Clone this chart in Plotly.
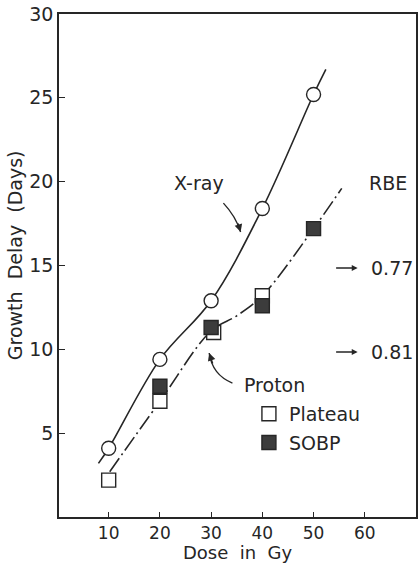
import plotly.graph_objects as go

# ---- data ----
xray_dose = [10, 20, 30, 40, 50]
xray_delay = [4.1, 9.4, 12.9, 18.4, 25.2]

plateau_dose = [10, 20, 30.5, 40]
plateau_delay = [2.2, 6.9, 11.0, 13.2]

sobp_dose = [20, 30, 40, 50]
sobp_delay = [7.8, 11.3, 12.6, 17.2]

# hand-drawn fitted curves
xray_curve_dose = [8.0, 10, 20, 30, 40, 50, 52.4]
xray_curve_delay = [3.2, 4.1, 9.4, 12.9, 18.4, 25.2, 26.7]
proton_curve_dose = [10.2, 20, 30, 35, 40, 50, 55.5]
proton_curve_delay = [2.7, 6.9, 11.1, 12.0, 13.2, 17.2, 19.6]

x_ticks = [10, 20, 30, 40, 50, 60]
y_ticks = [5, 10, 15, 20, 25, 30]
rbe_labels = ["0.77", "0.81"]
rbe_levels = [14.85, 9.84]

FONT = "DejaVu Sans"
INK = "#262626"

fig = go.Figure()

fig.add_trace(go.Scatter(
    x=xray_curve_dose, y=xray_curve_delay, mode="lines",
    line=dict(color=INK, width=1.6, shape="spline", smoothing=1.0),
    showlegend=False, hoverinfo="skip"))
fig.add_trace(go.Scatter(
    x=proton_curve_dose, y=proton_curve_delay, mode="lines",
    line=dict(color=INK, width=1.6, shape="spline", smoothing=1.0,
              dash="16px,4px,2px,4px"),
    showlegend=False, hoverinfo="skip"))

fig.add_trace(go.Scatter(
    x=xray_dose, y=xray_delay, mode="markers", name="X-ray",
    marker=dict(symbol="circle", size=14, color="white",
                line=dict(color=INK, width=1.4)),
    showlegend=False))
fig.add_trace(go.Scatter(
    x=plateau_dose, y=plateau_delay, mode="markers", name="Plateau",
    legendgroup="plateau",
    marker=dict(symbol="square", size=14, color="white",
                line=dict(color=INK, width=1.4))))
fig.add_trace(go.Scatter(
    x=sobp_dose, y=sobp_delay, mode="markers", name="SOBP",
    legendgroup="sobp",
    marker=dict(symbol="square", size=14, color="#3c3c3c",
                line=dict(color=INK, width=1.4))))

annotations = [
    dict(text="X-ray", x=27.6, y=19.95, xref="x", yref="y", showarrow=False,
         font=dict(family=FONT, size=19, color=INK)),
    dict(text="RBE", x=64.5, y=19.9, xref="x", yref="y", showarrow=False,
         font=dict(family=FONT, size=19, color=INK)),
    dict(text="Proton", x=36.1, y=7.9, xref="x", yref="y", showarrow=False,
         xanchor="left", font=dict(family=FONT, size=19, color=INK)),
    # x-ray arrowhead
    dict(text="", x=35.76, y=17.0, xref="x", yref="y", showarrow=True,
         ax=-3, ay=-10, arrowhead=2, arrowsize=1.1, arrowwidth=1.4,
         arrowcolor=INK, standoff=0),
    # proton arrowhead
    dict(text="", x=29.62, y=9.78, xref="x", yref="y", showarrow=True,
         ax=4, ay=12, arrowhead=2, arrowsize=1.1, arrowwidth=1.4,
         arrowcolor=INK, standoff=0),
    dict(text="Dose  in  Gy", x=0.5, y=-0.0696, xref="paper", yref="paper",
         showarrow=False, font=dict(family=FONT, size=18, color=INK),
         xanchor="center", yanchor="middle"),
    dict(text="Growth  Delay  (Days)", x=-0.1226, y=0.521, xref="paper",
         yref="paper", showarrow=False, textangle=-90,
         font=dict(family=FONT, size=19, color=INK),
         xanchor="center", yanchor="middle"),
]
for lab, lev in zip(rbe_labels, rbe_levels):
    annotations.append(dict(text="", x=58.6, y=lev, xref="x", yref="y",
                            showarrow=True, ax=-23, ay=0, arrowhead=2,
                            arrowsize=0.9, arrowwidth=1.3, arrowcolor=INK,
                            standoff=0))
    annotations.append(dict(text=lab, x=60.8, y=lev, xref="x", yref="y",
                            showarrow=False, xanchor="left",
                            font=dict(family=FONT, size=19, color=INK)))

shapes = [
    dict(type="path", xref="x", yref="y",
         path="M 32.4,18.72 Q 34.77,17.95 35.76,17.0",
         line=dict(color=INK, width=1.4)),
    dict(type="path", xref="x", yref="y",
         path="M 34.16,7.99 Q 30.24,8.47 29.62,9.78",
         line=dict(color=INK, width=1.4)),
]

fig.update_layout(
    width=420, height=565,
    margin=dict(l=59, r=2, t=14, b=48),
    paper_bgcolor="white", plot_bgcolor="white",
    font=dict(family=FONT, color=INK),
    annotations=annotations, shapes=shapes,
    showlegend=True,
    legend=dict(x=0.532, y=0.2426, xanchor="left", yanchor="top",
                font=dict(family=FONT, size=19, color=INK),
                bgcolor="rgba(0,0,0,0)", borderwidth=0, tracegroupgap=1),
    xaxis=dict(range=[0.3, 70], tickvals=x_ticks, ticks="inside", ticklen=5,
               tickwidth=1.4, tickcolor=INK, showline=True, linecolor=INK,
               linewidth=1.6, mirror=True, showgrid=False, zeroline=False,
               tickfont=dict(family=FONT, size=17, color=INK)),
    yaxis=dict(range=[0, 30], tickvals=y_ticks, ticks="inside", ticklen=6,
               tickwidth=1.4, tickcolor=INK, showline=True, linecolor=INK,
               linewidth=1.6, mirror=True, showgrid=False, zeroline=False,
               tickfont=dict(family=FONT, size=19, color=INK)),
)

fig.write_html("out.html", config={"displayModeBar": False},
               post_script="document.body.style.margin='0px';")
